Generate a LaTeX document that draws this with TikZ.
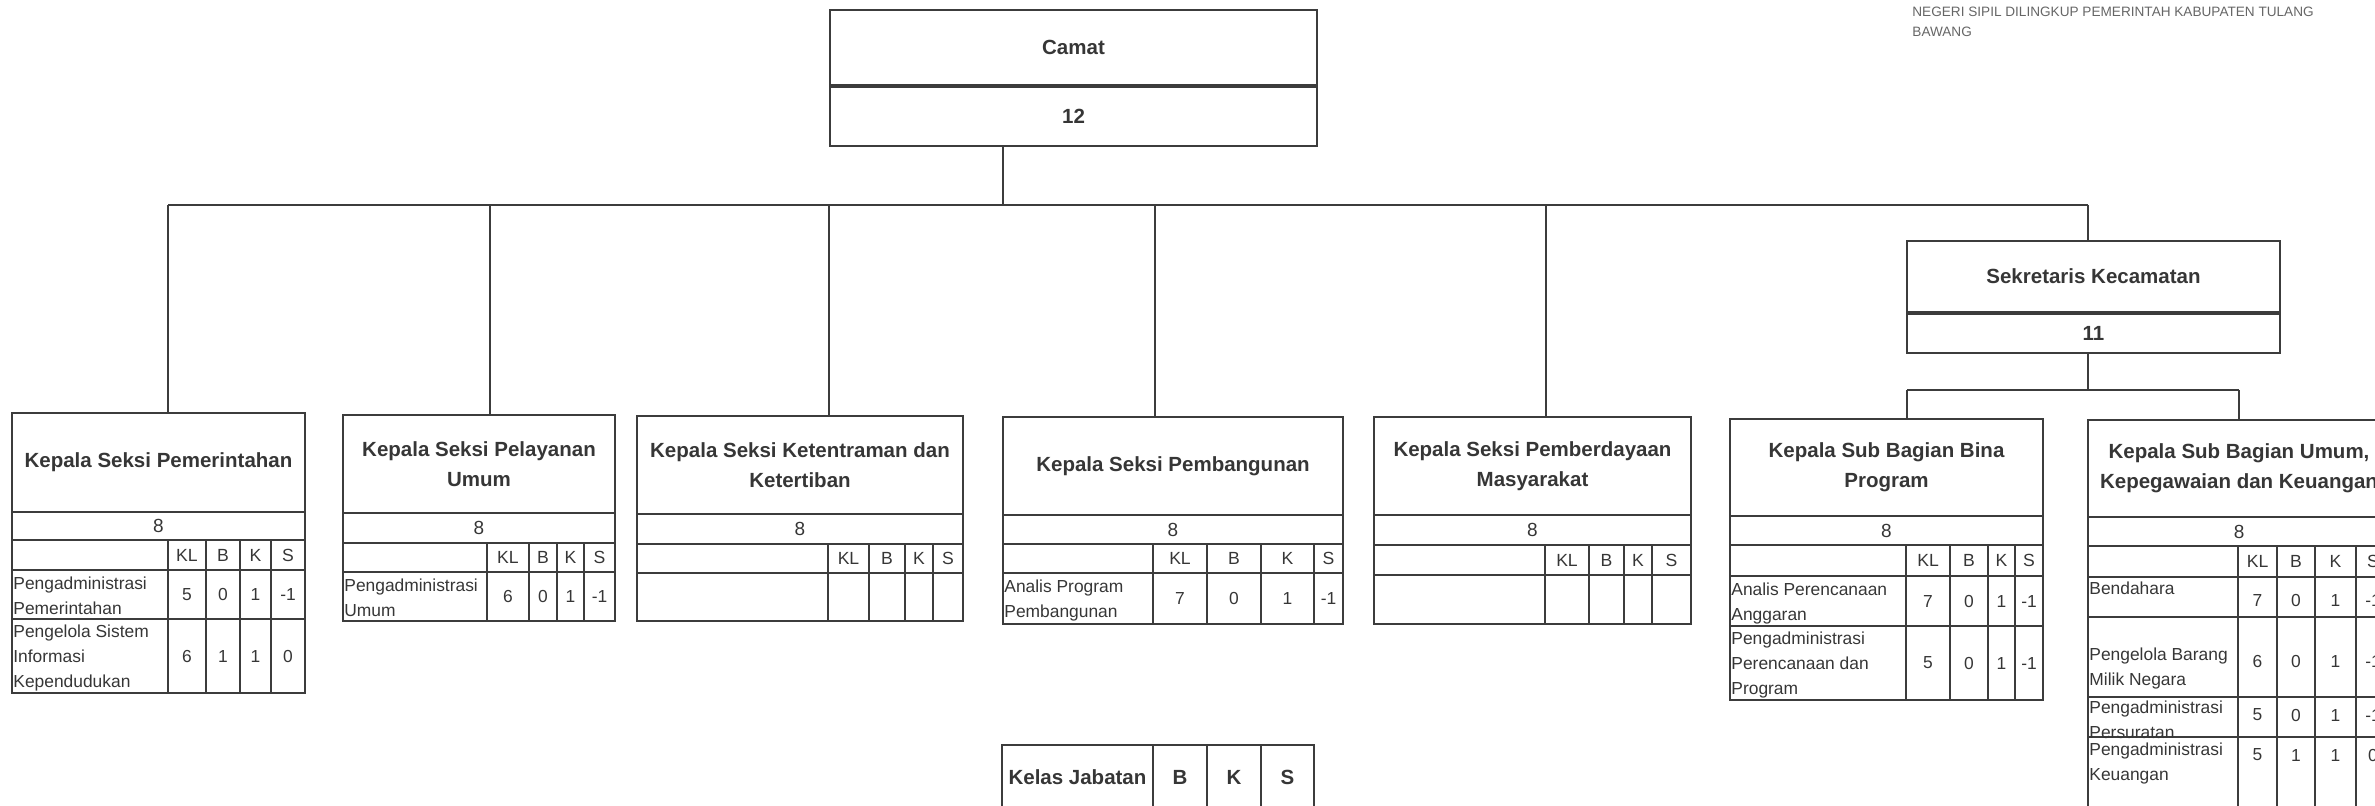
\documentclass[tikz,border=0pt]{standalone}
\usepackage{fontspec}
\setmainfont{Liberation Sans}
\usepackage{tikz}

\definecolor{garisabu}{HTML}{3C3C3C}
\definecolor{tinta}{HTML}{363636}

\begin{document}
\begin{tikzpicture}[x=0.5pt,y=-0.5pt,
  garis/.style={draw=garisabu, line width=0.9pt},
  judul/.style={text=tinta, font=\fontsize{10.25}{15}\selectfont\bfseries, align=center, inner sep=0pt},
  kotakatas/.style={garis, judul},
  angka/.style={text=tinta, font=\fontsize{9.5}{11}\selectfont, inner sep=0pt},
  kepala/.style={text=tinta, font=\fontsize{8.8}{10}\selectfont, inner sep=0pt},
  isi/.style={text=tinta, font=\fontsize{8.7}{12.5}\selectfont, align=left, inner sep=0pt, anchor=west},
  nilai/.style={text=tinta, font=\fontsize{8.7}{10}\selectfont, inner sep=0pt},
  catatan/.style={text=black!60, font=\fontsize{6.8}{10}\selectfont, align=left, inner sep=0pt, anchor=north west}]

\useasboundingbox (0,0) rectangle (2375,805);
\clip (0,0) rectangle (2375,805);

% Catatan pojok kanan atas
\node[catatan] (catatan) at (1912,7) {NEGERI SIPIL DILINGKUP PEMERINTAH KABUPATEN TULANG\\BAWANG};

% Camat
\node[kotakatas, minimum width=243.5pt, minimum height=37.5pt] (camat) at (1073.5,47.5) {Camat};
\node[kotakatas, minimum width=243.5pt, minimum height=29.5pt, anchor=north] (camat-kls) at (camat.south) {12};

% Sekretaris Kecamatan
\node[kotakatas, minimum width=186.5pt, minimum height=35.5pt] (sek) at (2093.5,276.5) {Sekretaris Kecamatan};
\node[kotakatas, minimum width=186.5pt, minimum height=19.5pt, anchor=north] (sek-kls) at (sek.south) {11};
\coordinate (sek-atas) at (2088,241);

% Kotak jabatan: bingkai, kelas 8 dan kepala kolom
\foreach \nm/\xp/\xa/\xb/\ya/\yb/\yc/\yd/\ka/\kb/\kc/\kd/\yz in {
  pem/168/12/305/413/512/540/570/168/206/240/271/693,
  pel/490/343/615/415/513/543/572/487/529/557/584/621,
  tib/829/637/963/416/514/544/573/828/869/905/933/621,
  bang/1155/1003/1343/417/515/544/573/1153/1207/1261/1314/624,
  pmd/1546/1374/1691/417/515/545/575/1545/1589/1624/1652/624,
  bina/1907/1730/2043/419/516/545/576/1906/1950/1988/2015/700,
  umum/2239/2088/2390/420/517/546/577/2238/2277/2315/2356/830}
{
  \draw[garis] (\xa,\ya) rectangle (\xb,\yz);
  \draw[garis] (\xa,\yb) -- (\xb,\yb) (\xa,\yc) -- (\xb,\yc) (\xa,\yd) -- (\xb,\yd);
  \draw[garis] (\ka,\yc) -- (\ka,\yz) (\kb,\yc) -- (\kb,\yz) (\kc,\yc) -- (\kc,\yz) (\kd,\yc) -- (\kd,\yz);
  \node[angka] (\nm-kls) at ({(\xa+\xb)/2},{(\yb+\yc)/2}) {8};
  \foreach \p/\q/\h in {\ka/\kb/KL,\kb/\kc/B,\kc/\kd/K,\kd/\xb/S}
    \node[kepala] (\nm-\h) at ({(\p+\q)/2},{(\yc+\yd)/2}) {\h};
  \coordinate (\nm-atas) at (\xp,\ya);
}

% Judul jabatan
\node[judul] (pem) at (158.5,462.5) {Kepala Seksi Pemerintahan};
\node[judul] (pel) at (479,464) {Kepala Seksi Pelayanan\\Umum};
\node[judul] (tib) at (800,465) {Kepala Seksi Ketentraman dan\\Ketertiban};
\node[judul] (bang) at (1173,466) {Kepala Seksi Pembangunan};
\node[judul] (pmd) at (1532.5,466) {Kepala Seksi Pemberdayaan\\Masyarakat};
\node[judul] (bina) at (1886.5,467.5) {Kepala Sub Bagian Bina\\Program};
\node[judul] (umum) at (2239,468.5) {Kepala Sub Bagian Umum,\\Kepegawaian dan Keuangan};

% Baris pemangku jabatan
\draw[garis] (12,619) -- (305,619);
\draw[garis] (1730,626) -- (2043,626);
\draw[garis] (2088,617) -- (2390,617) (2088,697) -- (2390,697) (2088,737) -- (2390,737);

\node[isi] (pem-r1) at (13,596) {Pengadministrasi\\Pemerintahan};
\foreach \x/\v/\j in {187/5/a,223/0/b,255.5/1/c,288/-1/d}
  \node[nilai] (pem-r1\j) at (\x,594.5) {\v};
\node[isi] (pem-r2) at (13,658) {Pengelola Sistem\\Informasi\\Kependudukan};
\foreach \x/\v/\j in {187/6/a,223/1/b,255.5/1/c,288/0/d}
  \node[nilai] (pem-r2\j) at (\x,656) {\v};

\node[isi] (pel-r1) at (344,598) {Pengadministrasi\\Umum};
\foreach \x/\v/\j in {508/6/a,543/0/b,570.5/1/c,599.5/-1/d}
  \node[nilai] (pel-r1\j) at (\x,596.5) {\v};

\node[isi] (bang-r1) at (1004,600) {Analis Program\\Pembangunan};
\foreach \x/\v/\j in {1180/7/a,1234/0/b,1287.5/1/c,1328.5/-1/d}
  \node[nilai] (bang-r1\j) at (\x,598.5) {\v};

\node[isi] (bina-r1) at (1731,603) {Analis Perencanaan\\Anggaran};
\foreach \x/\v/\j in {1928/7/a,1969/0/b,2001.5/1/c,2029/-1/d}
  \node[nilai] (bina-r1\j) at (\x,601) {\v};
\node[isi] (bina-r2) at (1731,665) {Pengadministrasi\\Perencanaan dan\\Program};
\foreach \x/\v/\j in {1928/5/a,1969/0/b,2001.5/1/c,2029/-1/d}
  \node[nilai] (bina-r2\j) at (\x,663) {\v};

\node[isi, anchor=north west] (umum-r1) at (2089,581) {Bendahara};
\foreach \x/\v/\j in {2257.5/7/a,2296/0/b,2335.5/1/c,2373/-1/d}
  \node[nilai] (umum-r1\j) at (\x,600) {\v};
\node[isi] (umum-r2) at (2089,668) {Pengelola Barang\\Milik Negara};
\foreach \x/\v/\j in {2257.5/6/a,2296/0/b,2335.5/1/c,2373/-1/d}
  \node[nilai] (umum-r2\j) at (\x,661) {\v};
\node[isi] (umum-r3) at (2089,720) {Pengadministrasi\\Persuratan};
\foreach \x/\v/\j in {2257.5/5/a,2296/0/b,2335.5/1/c,2373/-1/d}
  \node[nilai] (umum-r3\j) at (\x,715) {\v};
\node[isi] (umum-r4) at (2089,763) {Pengadministrasi\\Keuangan};
\foreach \x/\v/\j in {2257.5/5/a,2296/1/b,2335.5/1/c,2373/0/d}
  \node[nilai] (umum-r4\j) at (\x,755) {\v};

% Garis hubung
\coordinate (bus) at (1003,205);
\draw[garis] (camat-kls.south -| bus) -- (bus);
\draw[garis] (pem-atas |- bus) -- (sek-atas |- bus);
\foreach \k in {pem,pel,tib,bang,pmd,sek}
  \draw[garis] (\k-atas |- bus) -- (\k-atas);

\coordinate (subbus) at (2088,390);
\draw[garis] (sek-kls.south -| subbus) -- (subbus);
\draw[garis] (bina-atas |- subbus) -- (umum-atas |- subbus);
\foreach \k in {bina,umum}
  \draw[garis] (\k-atas |- subbus) -- (\k-atas);

% Keterangan kelas jabatan
\draw[garis] (1002,745) rectangle (1314,808);
\draw[garis] (1153,745) -- (1153,808) (1207,745) -- (1207,808) (1261,745) -- (1261,808);
\node[judul] (kelas) at (1077.5,777) {Kelas Jabatan};
\node[judul] (kelas-b) at (1180,777) {B};
\node[judul] (kelas-k) at (1234,777) {K};
\node[judul] (kelas-s) at (1287.5,777) {S};

\end{tikzpicture}
\end{document}
